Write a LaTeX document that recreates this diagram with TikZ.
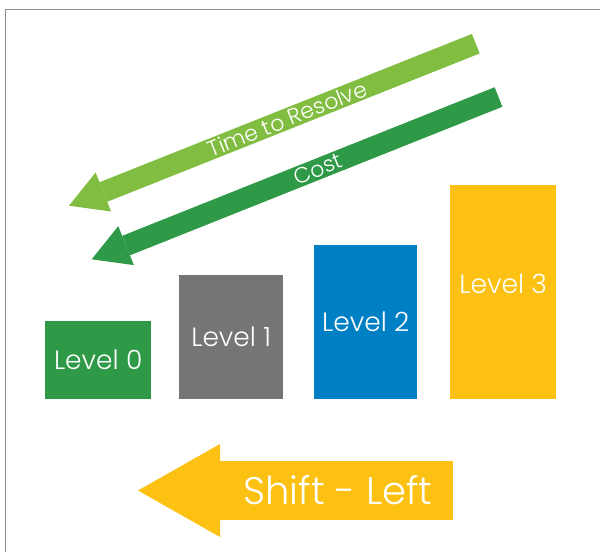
\documentclass[tikz,border=0pt]{standalone}
\usepackage{fontspec}
\setmainfont{Poppins}[UprightFont=* Light]
\usetikzlibrary{arrows.meta,positioning,calc}

\definecolor{lightgrn}{HTML}{80BD41}
\definecolor{darkgrn}{HTML}{2E9947}
\definecolor{lvgray}{HTML}{737576}
\definecolor{lvblue}{HTML}{0080C4}
\definecolor{lvyellow}{HTML}{FDC113}
\definecolor{framegray}{HTML}{8C8C8C}

\begin{document}
\begin{tikzpicture}[
    x=1pt, y=-1pt,
    lvbox/.style={rectangle, inner sep=0pt, text=white, anchor=south west, font=\fontsize{26.5}{31}\selectfont},
    fatarrow/.style={line cap=butt},
    arrowtext/.style={sloped, inner sep=0pt, text=white, font=\fontsize{22}{26}\selectfont},
    bigtext/.style={inner sep=0pt, text=white, font=\fontsize{38.5}{44}\selectfont}
]
    \useasboundingbox (0,0) rectangle (600,552);

    % Frame
    \draw[framegray, line width=1.8pt] (5.5,552) -- (5.5,9.5) -- (600,9.5);

    % Levels
    \node[lvbox, fill=darkgrn, minimum width=106pt, minimum height=78pt] (lv0) at (45,399) {Level 0};
    \node[lvbox, fill=lvgray, minimum width=104pt, minimum height=124pt] (lv1) at (179,399) {Level 1};
    \node[lvbox, fill=lvblue, minimum width=103pt, minimum height=154pt] (lv2) at (314,399) {Level 2};
    \node[lvbox, fill=lvyellow, minimum width=106pt, minimum height=214pt] (lv3) at (450,399) {};
    \node[lvbox, anchor=center] (lv3txt) at ([yshift=8pt]lv3.center) {Level 3};

    % Time and cost arrows
    \coordinate (trStart) at (475.8,43.7);
    \coordinate (trTip) at (69,205.7);
    \coordinate (costStart) at (498.5,97);
    \coordinate (costTip) at (91.7,259.3);

    \draw[fatarrow, lightgrn, line width=21pt, -{Triangle[width=42pt,length=37pt,line width=0pt]}]
        (trStart) -- node[arrowtext, pos=0.464] {Time to Resolve} (trTip);
    \draw[fatarrow, darkgrn, line width=21pt, -{Triangle[width=42pt,length=37pt,line width=0pt]}]
        (costStart) -- node[arrowtext, pos=0.444] {Cost} (costTip);

    % Shift left
    \coordinate (slStart) at (453,490.5);
    \coordinate (slTip) at (138,490.5);
    \draw[fatarrow, lvyellow, line width=59pt, -{Triangle[width=93pt,length=82pt,line width=0pt]}]
        (slStart) -- (slTip);
    \node[bigtext] (shift) at (338,490) {Shift - Left};

\end{tikzpicture}
\end{document}
